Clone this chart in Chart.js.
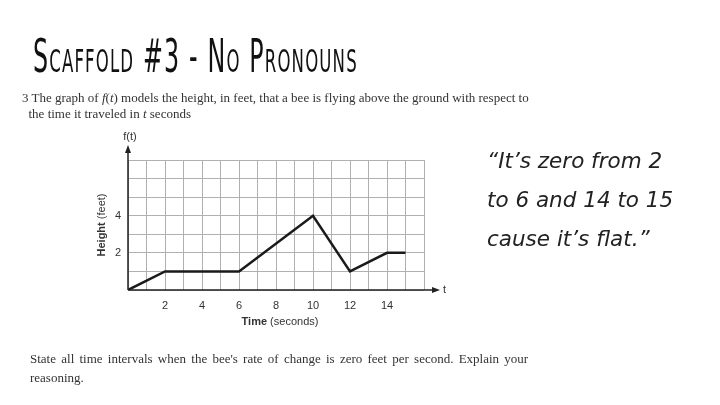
<!DOCTYPE html>
<html>
<head>
<meta charset="utf-8">
<script src="https://cdn.jsdelivr.net/npm/chart.js@4"></script>
<style>
    body { margin: 0; width: 720px; height: 405px; background: #fff; position: relative; overflow: hidden; }
    #chart { position: absolute; left: 0; top: 0; }
    .title {
        position: absolute; left: 33px; top: 29px;
        font-family: "Liberation Sans Narrow", "DejaVu Sans Condensed", sans-serif;
        font-size: 46px; font-variant: small-caps; color: #111; letter-spacing: 2px;
        transform: scaleX(0.575); transform-origin: left top; font-weight: normal;
        white-space: nowrap;
    }
    .serif { position: absolute; font-family: "Liberation Serif", serif; font-size: 13px; color: #333; line-height: 16px; white-space: nowrap; }
    .hand {
        position: absolute; left: 487px; top: 141px;
        font-family: "DejaVu Sans", sans-serif; font-style: italic;
        font-size: 21.5px; line-height: 39px; color: #222;
    }
</style>
</head>
<body>
<canvas id="chart" width="720" height="405"></canvas>
<div class="title">Scaffold #3 - No Pronouns</div>
<div class="serif" style="left:22px; top:90px;">3 The graph of <i>f</i>(<i>t</i>) models the height, in feet, that a bee is flying above the ground with respect to<br>&nbsp;&nbsp;the time it traveled in <i>t</i> seconds</div>
<div class="serif" style="left:30px; top:349px; word-spacing:2px; line-height:19px;">State all time intervals when the bee's rate of change is zero feet per second. Explain your<br>reasoning.</div>
<div class="hand">“It’s zero from 2<br>to 6 and 14 to 15<br>cause it’s flat.”</div>
<script>
// data
const timeValues = [0, 2, 6, 10, 12, 14, 15];
const heightValues = [0, 1, 1, 4, 1, 2, 2];
const xTickLabels = [2, 4, 6, 8, 10, 12, 14];
const yTickLabels = [2, 4];

const points = timeValues.map((t, i) => ({ x: t, y: heightValues[i] }));

// axes with arrows + mixed bold axis titles
const axisPlugin = {
    id: 'axisArrows',
    afterDraw(chart) {
        const ctx = chart.ctx;
        const x = chart.scales.x, y = chart.scales.y;
        const x0 = x.getPixelForValue(0), y0 = y.getPixelForValue(0);
        const xEnd = x.right + 11, yEnd = y.top - 10;
        ctx.save();
        ctx.strokeStyle = '#222';
        ctx.fillStyle = '#222';
        ctx.lineWidth = 1.5;
        ctx.beginPath();
        ctx.moveTo(x0, y0); ctx.lineTo(xEnd, y0);
        ctx.moveTo(x0, y0); ctx.lineTo(x0, yEnd);
        ctx.stroke();
        ctx.beginPath();
        ctx.moveTo(xEnd + 5, y0); ctx.lineTo(xEnd - 3, y0 - 3); ctx.lineTo(xEnd - 3, y0 + 3); ctx.closePath();
        ctx.moveTo(x0, yEnd - 5); ctx.lineTo(x0 - 3, yEnd + 3); ctx.lineTo(x0 + 3, yEnd + 3); ctx.closePath();
        ctx.fill();

        ctx.font = '11px "Liberation Sans", Arial, sans-serif';
        ctx.fillStyle = '#333';
        ctx.textBaseline = 'middle';
        ctx.textAlign = 'left';
        ctx.fillText('t', xEnd + 8, y0);
        ctx.textAlign = 'center';
        ctx.fillText('f(t)', x0 + 2, yEnd - 13);

        // x title
        const bold = 'bold 11px "Liberation Sans", Arial, sans-serif';
        const norm = '11px "Liberation Sans", Arial, sans-serif';
        ctx.textAlign = 'left';
        ctx.font = bold; const w1 = ctx.measureText('Time ').width;
        ctx.font = norm; const w2 = ctx.measureText('(seconds)').width;
        let sx = (x.left + x.right) / 2 - (w1 + w2) / 2 + 4;
        ctx.font = bold; ctx.fillText('Time ', sx, 322);
        ctx.font = norm; ctx.fillText('(seconds)', sx + w1, 322);

        // y title rotated
        ctx.translate(102, (y.top + y.bottom) / 2);
        ctx.rotate(-Math.PI / 2);
        ctx.font = bold; const h1 = ctx.measureText('Height ').width;
        ctx.font = norm; const h2 = ctx.measureText('(feet)').width;
        sx = -(h1 + h2) / 2;
        ctx.font = bold; ctx.fillText('Height ', sx, 0);
        ctx.font = norm; ctx.fillText('(feet)', sx + h1, 0);
        ctx.restore();
    }
};

new Chart(document.getElementById('chart'), {
    type: 'line',
    data: {
        datasets: [{
            data: points,
            borderColor: '#1a1a1a',
            borderWidth: 2.5,
            pointRadius: 0,
            tension: 0,
            fill: false
        }]
    },
    options: {
        responsive: false,
        animation: false,
        layout: { padding: { left: 88, top: 160, right: 296, bottom: 75 } },
        plugins: { legend: { display: false }, tooltip: { enabled: false } },
        scales: {
            x: {
                type: 'linear', min: 0, max: 16,
                afterFit: (s) => { s.height = 40; },
                grid: { color: '#b0b0b0', lineWidth: 1, drawTicks: false },
                border: { display: false },
                ticks: {
                    stepSize: 1, autoSkip: false, maxRotation: 0, padding: 9,
                    color: '#333', font: { family: '"Liberation Sans", Arial', size: 11 },
                    callback: (v) => xTickLabels.includes(v) ? String(v) : ''
                }
            },
            y: {
                min: 0, max: 7,
                afterFit: (s) => { s.width = 40; },
                grid: { color: '#b0b0b0', lineWidth: 1, drawTicks: false },
                border: { display: false },
                ticks: {
                    stepSize: 1, autoSkip: false, padding: 7,
                    color: '#333', font: { family: '"Liberation Sans", Arial', size: 11 },
                    callback: (v) => yTickLabels.includes(v) ? String(v) : ''
                }
            }
        }
    },
    plugins: [axisPlugin]
});
</script>
</body>
</html>
